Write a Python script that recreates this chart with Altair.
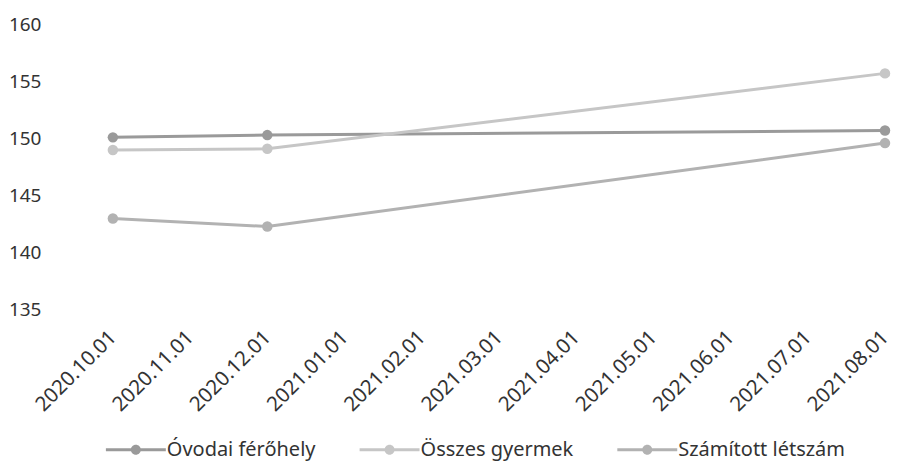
import altair as alt
import pandas as pd

months = ["2020.10.01", "2020.11.01", "2020.12.01", "2021.01.01", "2021.02.01",
          "2021.03.01", "2021.04.01", "2021.05.01", "2021.06.01", "2021.07.01",
          "2021.08.01"]
obs_dates = ["2020.10.01", "2020.12.01", "2021.08.01"]
series_names = ["Óvodai férőhely", "Összes gyermek", "Számított létszám"]
ovodai = [150.1, 150.3, 150.7]
osszes = [149.0, 149.1, 155.7]
szamitott = [143.0, 142.3, 149.6]
colors = ["#9a9a9a", "#c6c6c6", "#b2b2b2"]

rows = []
for name, vals in zip(series_names, [ovodai, osszes, szamitott]):
    for d, v in zip(obs_dates, vals):
        rows.append({"date": d, "value": v, "series": name})
df = pd.DataFrame(rows)

font = "Noto Sans"
legend_path = ("M-3,-0.16H3V0.16H-3Z "
               "M0.5,0A0.5,0.5 0 1,1 -0.5,0A0.5,0.5 0 1,1 0.5,0Z")

x = alt.X("date:O", scale=alt.Scale(domain=months, type="point", padding=0),
          axis=alt.Axis(title=None, labelAngle=-45, labelAlign="right",
                        labelBaseline="middle", labelPadding=24, ticks=False,
                        domain=False, labelFontSize=20.5, labelColor="#333333",
                        labelFont=font))
y = alt.Y("value:Q", scale=alt.Scale(domain=[135, 160]),
          axis=alt.Axis(title=None, values=[135, 140, 145, 150, 155, 160],
                        grid=False, ticks=False, domain=False, labelPadding=72,
                        labelFontSize=19, labelColor="#333333", labelFont=font))

legend = alt.Legend(title=None, orient="none", direction="horizontal",
                    legendX=13, legendY=416,
                    symbolType=legend_path, symbolSize=400, symbolStrokeWidth=0,
                    labelFontSize=20, labelColor="#333333", labelFont=font,
                    labelLimit=400, columnPadding=44, labelOffset=21)

scale = alt.Scale(domain=series_names, range=colors)

lines = alt.Chart(df).mark_line(strokeWidth=3).encode(
    x=x, y=y,
    stroke=alt.Stroke("series:N", scale=scale, legend=legend, sort=series_names),
)
points = alt.Chart(df).mark_circle(size=110, opacity=1).encode(
    x=x, y=y,
    fill=alt.Fill("series:N", scale=scale, legend=legend, sort=series_names),
)

chart = (lines + points).properties(
    width=773, height=286,
    padding={"left": 0, "top": 7, "right": 0, "bottom": 4},
    background="white",
).configure_view(strokeWidth=0)

chart.save("out.html", embed_options={"renderer": "svg", "actions": False})
